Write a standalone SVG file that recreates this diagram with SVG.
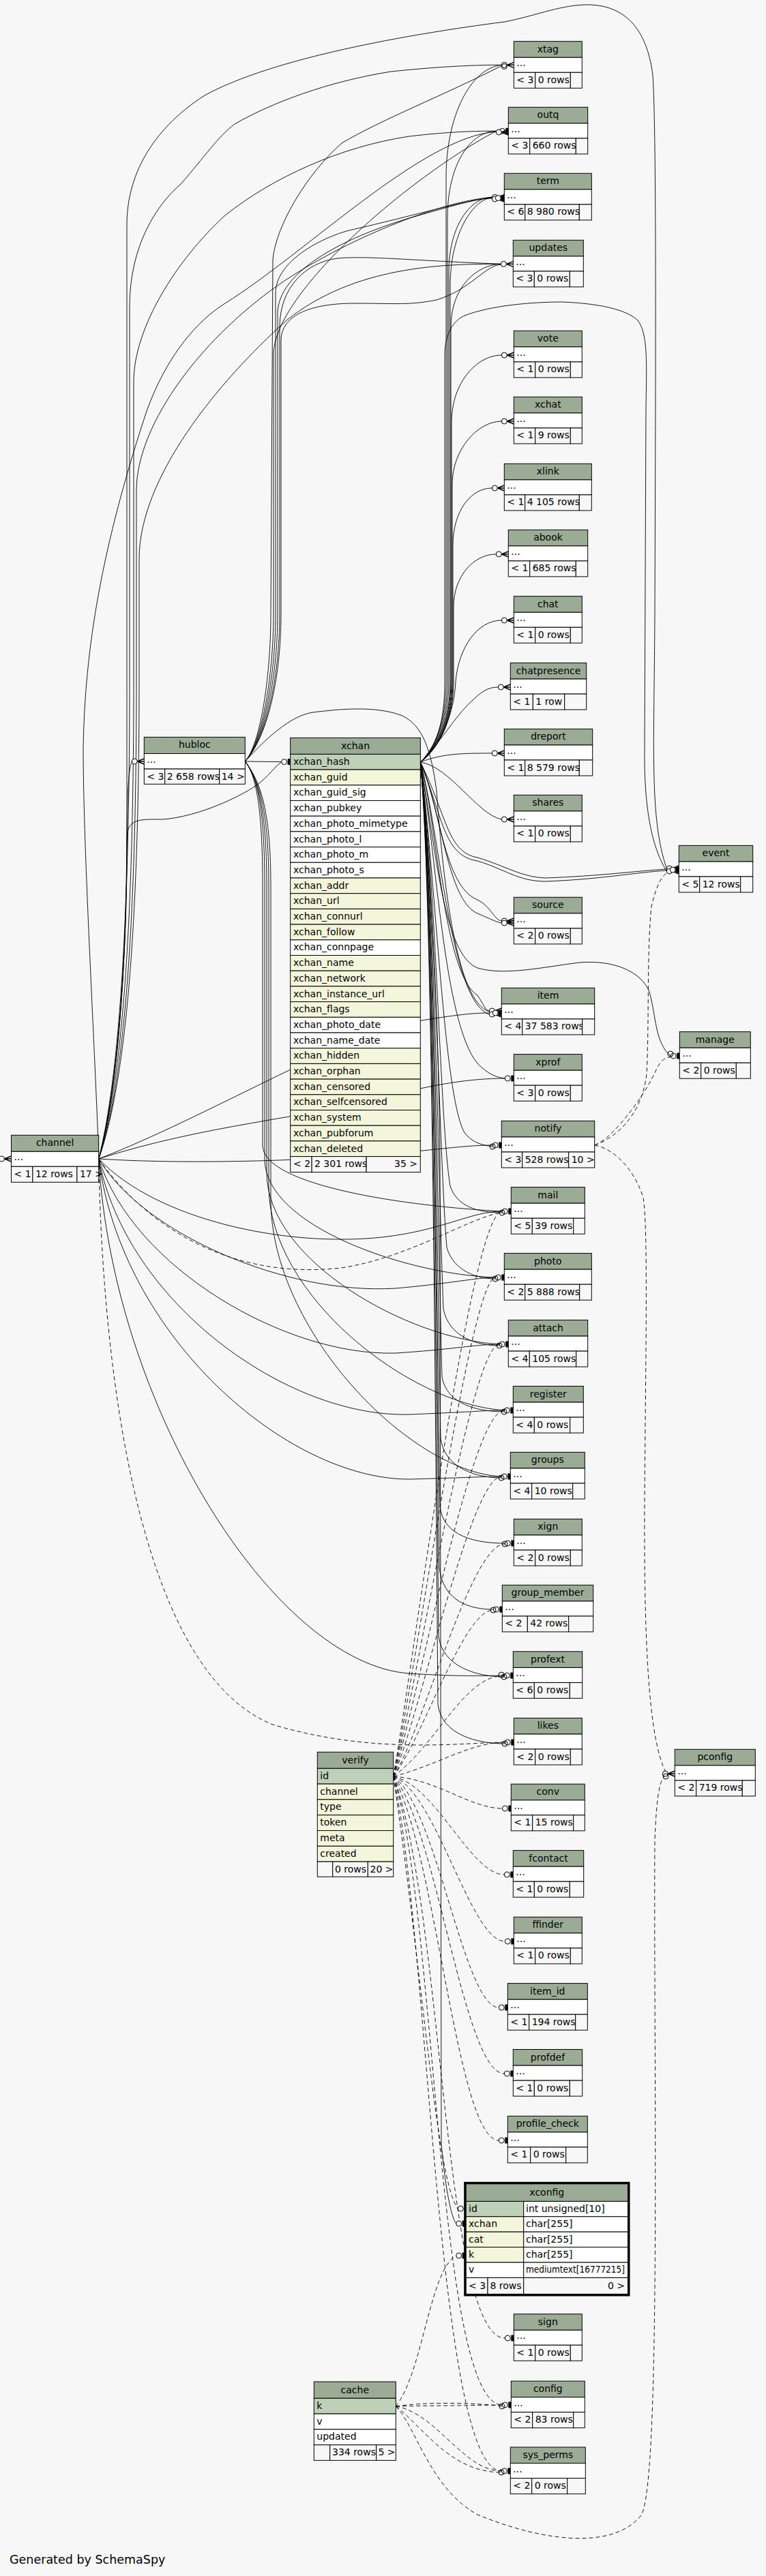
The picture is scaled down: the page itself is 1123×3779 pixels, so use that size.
<svg xmlns="http://www.w3.org/2000/svg" xmlns:xlink="http://www.w3.org/1999/xlink" width="1123" height="3779" viewBox="0 0 1123 3779">
<style>
text{font-family:"DejaVu Sans","Liberation Sans",sans-serif;font-size:14px;fill:#000}
.c{text-anchor:middle}
.r{text-anchor:end}
.h{fill:#9bab96;stroke:#000;stroke-width:1}
.w{fill:#fff;stroke:#000;stroke-width:1}
.pk{fill:#bed1b8;stroke:#000;stroke-width:1}
.ix{fill:#f4f6dc;stroke:#000;stroke-width:1}
.f{fill:#f7f7f7;stroke:#000;stroke-width:1}
.e{fill:none;stroke:#000;stroke-width:0.9}
.d{stroke-dasharray:6,4}
</style>
<defs>
<g id="cr"><circle cx="-14" cy="0" r="4" fill="#f7f7f7" stroke="#000"/><path d="M-10,0 L0,-4 M-10,0 L0,0 M-10,0 L0,4" fill="none" stroke="#000" stroke-width="1.4"/></g>
<g id="te"><circle cx="-9" cy="0" r="4" fill="#f7f7f7" stroke="#000"/><rect x="-4" y="-4.5" width="4" height="9" fill="#000"/></g>
<circle id="o" cx="0" cy="0" r="4" fill="none" stroke="#000"/>
</defs>
<rect x="0" y="0" width="1123" height="3779" fill="#f7f7f7"/>

<g id="connectors">
<path class="e" d="M144.7,1700 C168,1620 186,1450 186,1200 L186,330 C186,250 230,185 300,140 C400,85 600,50 740,32 C790,22 825,6 865,7 C915,9 948,40 957,110 C963,200 961,600 960,900 C959,1100 952,1200 977.3,1274"/>
<path class="e" d="M144.7,1700 C170,1600 190,1400 190,1000 L190,450 C190,360 230,300 265,270 C300,230 320,200 344,182 C400,150 480,120 573,105 C650,97 700,95.3 735.3,95.3"/>
<path class="e" d="M144.7,1700 C140,1550 122,1250 122,1100 C124,950 150,800 215,603 C245,520 290,470 330,445 C450,370 620,200 727.3,193.3"/>
<path class="e" d="M144.7,1700 C175,1600 196,1400 196,1000 L196,560 C196,480 260,380 330,316 C400,260 500,215 600,200 C660,193 700,192 727.3,192.3"/>
<path class="e" d="M144.7,1700 C178,1600 200,1400 200,1000 L200,720 C200,620 300,490 420,410 C520,345 650,295 721.3,289.3"/>
<path class="e" d="M144.7,1700 C180,1600 204,1400 204,1000 L204,820 C204,700 320,560 420,470 C520,390 650,387 734.3,387.3"/>
<path class="e" d="M144.7,1700 C172,1600 186,1400 186,1250 C186,1170 188,1130 193.3,1117"/>
<path class="e" d="M144.7,1700 C174,1600 186,1400 186,1230 C186,1200 205,1202 239,1202 C290,1198 350,1170 376,1152 C393,1140 403,1124 412.7,1118"/>
<path class="e" d="M144.7,1700 C300,1650 450,1640 560,1610 C640,1590 690,1582 740.3,1582"/>
<path class="e" d="M144.7,1700 C300,1710 500,1700 600,1690 C660,1684 690,1680 722.3,1680"/>
<path class="e" d="M144.7,1700 C230,1790 420,1830 560,1815 C650,1805 690,1777 736.3,1777"/>
<path class="e" d="M144.7,1700 C210,1810 420,1900 580,1890 C660,1883 700,1874 726.3,1874"/>
<path class="e" d="M144.7,1700 C195,1860 420,1990 580,1985 C660,1980 700,1972 732.3,1972"/>
<path class="e" d="M144.7,1700 C185,1910 420,2080 600,2075 C680,2072 710,2069 739.3,2069"/>
<path class="e" d="M144.7,1700 C178,1960 420,2170 600,2170 C680,2168 710,2166 735.3,2166"/>
<path class="e" d="M144.7,1700 C165,2060 400,2440 600,2455 C680,2460 710,2458 739.3,2458"/>
<path class="e" d="M144.7,1700 C300,1640 500,1520 600,1500 C660,1490 690,1486 717.3,1486"/>
<path class="e d" d="M144.7,1700 C200,1780 320,1880 500,1860 C600,1845 680,1790 736.3,1778"/>
<path class="e d" d="M144.7,1700 C150,2000 200,2450 400,2530 C550,2575 680,2556 740.3,2556"/>
<path class="e" d="M-20,1740 C-10,1725 -6,1705 -1.5,1700"/>
<path class="e" d="M359.3,1117 L412.7,1117.6"/>
<path class="e" d="M359.3,1117 C380,1095 397,1000 397,900 L400,380 C405,330 450,255 501,210 C560,175 650,140 735.3,96.5"/>
<path class="e" d="M359.3,1117 C382,1092 401,1000 401,900 L401,520 C401,430 600,260 727.3,192.3"/>
<path class="e" d="M359.3,1117 C384,1090 404,1000 404,900 L404,430 C404,380 480,345 516,337 C600,318 690,292 721.3,290"/>
<path class="e" d="M359.3,1117 C386,1088 407,1000 407,900 L407,460 C407,400 500,350 600,320 C670,300 700,291 721.3,291"/>
<path class="e" d="M359.3,1117 C388,1086 410,1000 410,900 L410,480 C410,420 450,385 494,379 C540,375 600,382 734.3,387.3"/>
<path class="e" d="M359.3,1117 C390,1084 412,1000 412,900 L412,500 C412,460 460,445 520,445 C580,445 600,448 640,440 C690,425 710,390 734.3,388"/>
<path class="e" d="M359.3,1117 C375,1100 420,1050 459,1045 C500,1040 551,1035 590,1050 C620,1065 632,1100 640,1160 C650,1300 670,1470 717.3,1484"/>
<path class="e" d="M359.3,1117 C378,1140 385,1200 385,1300 L385,1680 C385,1740 600,1770 736.3,1777"/>
<path class="e" d="M359.3,1117 C380,1142 388,1200 388,1300 L388,1700 C388,1800 600,1870 726.3,1874"/>
<path class="e" d="M359.3,1117 C381,1145 391,1200 391,1300 L391,1720 C391,1850 600,1965 732.3,1972"/>
<path class="e" d="M359.3,1117 C383,1148 394,1200 394,1300 L394,1740 C394,1900 600,2060 739.3,2069"/>
<path class="e" d="M359.3,1117 C385,1150 397,1200 397,1300 L397,1760 C397,1950 600,2160 735.3,2166"/>
<path class="e" d="M616.3,1118 C640,1095 652,1060 652,1000 L652,520 C652,490 665,470 681,463 C720,448 780,443 824,443 C880,445 920,455 935,470 C950,490 948,530 947,600 L945,1100 C944,1200 960,1250 977.3,1278"/>
<path class="e" d="M616.3,1118 C650,1200 650,1255 700,1263 C740,1275 760,1293 800,1293 C880,1290 930,1280 977.3,1277"/>
<path class="e" d="M616.3,1118 C655,1195 655,1250 700,1258 C740,1270 765,1287 800,1288 C880,1285 930,1278 977.3,1275"/>
<path class="e" d="M616.3,1118 C636,1100 654,1060 654,1000 L654,260 C654,170 690,100 735.3,95.3"/>
<path class="e" d="M616.3,1118 C636,1100 656,1060 656,1000 L656,320 C656,240 690,193 727.3,192.3"/>
<path class="e" d="M616.3,1118 C637,1100 658,1060 658,1000 L658,400 C658,330 690,290 721.3,289.3"/>
<path class="e" d="M616.3,1118 C638,1100 660,1060 660,1000 L660,420 C660,340 695,292 721.3,290"/>
<path class="e" d="M616.3,1118 C638,1100 661,1060 661,1000 L661,480 C661,420 700,388 734.3,387.3"/>
<path class="e" d="M616.3,1118 C640,1100 662,1060 662,1000 L662,620 C662,560 700,521 735.3,521"/>
<path class="e" d="M616.3,1118 C640,1100 663,1060 663,1000 L663,710 C663,660 700,618 735.3,618"/>
<path class="e" d="M616.3,1118 C640,1100 664,1060 664,1000 L664,800 C664,750 690,716 721.3,716"/>
<path class="e" d="M616.3,1118 C641,1100 665,1060 665,1000 L665,890 C665,845 695,813 727.3,813"/>
<path class="e" d="M616.3,1118 C642,1100 666,1050 668,1000 C672,950 700,910 735.3,910"/>
<path class="e" d="M616.3,1118 C645,1090 668,1050 690,1030 C705,1015 715,1008 730.3,1008"/>
<path class="e" d="M616.3,1118 C650,1105 680,1105 721.3,1105"/>
<path class="e" d="M616.3,1118 C660,1125 700,1195 735.3,1202"/>
<path class="e" d="M616.3,1118 C645,1180 650,1300 700,1320 C720,1330 725,1350 735.3,1351"/>
<path class="e" d="M616.3,1118 C648,1190 655,1320 700,1340 C715,1346 725,1352 735.3,1354"/>
<path class="e" d="M616.3,1118 C640,1200 650,1430 700,1460 C710,1475 712,1483 717.3,1483"/>
<path class="e" d="M616.3,1118 C645,1220 660,1470 717.3,1488"/>
<path class="e" d="M616.3,1118 C640,1250 650,1500 700,1560 C715,1575 725,1580 740.3,1582"/>
<path class="e" d="M616.3,1118 C640,1300 650,1600 680,1660 C690,1675 705,1680 722.3,1682"/>
<path class="e" d="M616.3,1118 C640,1250 650,1400 700,1420 C740,1432 800,1418 850,1412 C900,1408 940,1425 952,1455 C962,1490 960,1530 983.3,1549"/>
<path class="e" d="M616.3,1118 C640,1300 645,1650 660,1740 C670,1770 700,1779 736.3,1779"/>
<path class="e" d="M616.3,1118 C638,1300 644,1700 655,1830 C665,1865 700,1876 726.3,1876"/>
<path class="e" d="M616.3,1118 C637,1300 643,1750 650,1920 C658,1962 700,1974 732.3,1974"/>
<path class="e" d="M616.3,1118 C636,1300 642,1800 648,2020 C655,2060 700,2071 739.3,2071"/>
<path class="e" d="M616.3,1118 C636,1300 641,1850 646,2110 C652,2155 700,2168 735.3,2168"/>
<path class="e" d="M616.3,1118 C635,1300 640,1900 645,2210 C650,2255 700,2264 740.3,2264"/>
<path class="e" d="M616.3,1118 C635,1300 640,1950 644,2300 C650,2350 690,2361 723.3,2361"/>
<path class="e" d="M616.3,1118 C634,1300 639,2000 643,2400 C648,2445 700,2460 739.3,2460"/>
<path class="e" d="M616.3,1118 C634,1300 638,2050 642,2500 C647,2545 700,2558 740.3,2558"/>
<path class="e" d="M616.3,1118 C633,1300 643,1500 645,1700 L647,3146 C652,3200 660,3250 668.7,3262"/>
<path class="e d" d="M576.7,2606 C640,2610 690,2653 736.3,2653"/>
<path class="e d" d="M576.7,2606 C640,2620 690,2750 739.3,2750"/>
<path class="e d" d="M576.7,2606 C640,2630 690,2848 740.3,2848"/>
<path class="e d" d="M576.7,2606 C640,2650 680,2945 731.3,2945"/>
<path class="e d" d="M576.7,2606 C640,2680 680,3042 739.3,3042"/>
<path class="e d" d="M576.7,2606 C640,2720 670,3140 731.3,3140"/>
<path class="e d" d="M576.7,2606 C650,2800 650,3430 740.3,3430"/>
<path class="e d" d="M576.7,2606 C640,2800 640,3528 736.3,3528"/>
<path class="e d" d="M576.7,2606 C630,2850 640,3625 735.3,3625"/>
<path class="e d" d="M576.7,2606 C640,2590 690,2556 740.3,2556"/>
<path class="e d" d="M576.7,2606 C640,2560 680,2458 739.3,2458"/>
<path class="e d" d="M576.7,2606 C620,2550 680,2361 723.3,2362"/>
<path class="e d" d="M576.7,2606 C620,2540 690,2264 740.3,2265"/>
<path class="e d" d="M576.7,2606 C615,2520 690,2166 735.3,2166"/>
<path class="e d" d="M576.7,2606 C612,2500 690,2069 739.3,2069"/>
<path class="e d" d="M576.7,2606 C610,2480 690,1972 732.3,1972"/>
<path class="e d" d="M576.7,2606 C608,2460 690,1874 726.3,1874"/>
<path class="e d" d="M576.7,2606 C606,2440 690,1777 736.3,1777"/>
<path class="e d" d="M576.7,2606 C620,2900 640,3200 671.3,3240"/>
<path class="e d" d="M580.3,3530 L736.3,3528"/>
<path class="e d" d="M580.3,3530 C620,3524 690,3524 736.3,3530"/>
<path class="e d" d="M580.3,3530 C640,3540 680,3625 735.3,3625"/>
<path class="e d" d="M580.3,3530 C620,3560 660,3627 735.3,3627"/>
<path class="e d" d="M580.3,3530 C620,3480 630,3330 668.7,3309"/>
<path class="e d" d="M580.3,3530 C610,3560 630,3650 700,3689 C800,3730 900,3740 940,3690 C970,3640 958,3000 960,2700 C962,2650 965,2610 976.3,2604"/>
<path class="e d" d="M871.7,1680 C900,1670 940,1640 948,1576 C952,1500 948,1400 955,1330 C962,1300 970,1285 977.3,1281"/>
<path class="e d" d="M871.7,1680 C900,1670 950,1600 963,1567 C970,1555 975,1551 983.3,1551"/>
<path class="e d" d="M871.7,1680 C900,1685 930,1715 943,1757 C950,1800 947,1966 945,2200 C944,2400 950,2550 976.3,2600"/>
<use href="#cr" x="753.3" y="95.3"/><use href="#o" x="739.3" y="97.5"/>
<use href="#te" x="745.3" y="192.3"/><use href="#cr" x="745.3" y="194"/>
<use href="#cr" x="739.3" y="289.3"/><use href="#cr" x="739.3" y="292"/><use href="#te" x="739.3" y="290.5"/>
<use href="#cr" x="752.3" y="387.3"/>
<use href="#cr" x="753.3" y="521"/>
<use href="#cr" x="753.3" y="618"/>
<use href="#cr" x="739.3" y="716"/>
<use href="#cr" x="745.3" y="813"/>
<use href="#cr" x="753.3" y="910"/>
<use href="#cr" x="748.3" y="1008"/>
<use href="#cr" x="739.3" y="1105"/>
<use href="#cr" x="753.3" y="1202"/>
<use href="#cr" x="995.3" y="1274"/><use href="#cr" x="995.3" y="1278"/><use href="#te" x="995.3" y="1276"/>
<use href="#cr" x="753.3" y="1351"/><use href="#cr" x="753.3" y="1354"/>
<use href="#cr" x="735.3" y="1483"/><use href="#cr" x="735.3" y="1488"/><use href="#te" x="735.3" y="1486"/>
<use href="#te" x="996.3" y="1549"/><use href="#o" x="983" y="1546"/>
<use href="#te" x="753.3" y="1582"/>
<use href="#te" x="735.3" y="1680"/><use href="#o" x="722" y="1682"/>
<use href="#te" x="749.3" y="1777"/><use href="#o" x="736" y="1779"/>
<use href="#te" x="739.3" y="1874"/><use href="#o" x="726" y="1876"/>
<use href="#te" x="745.3" y="1972"/><use href="#o" x="732" y="1974"/>
<use href="#te" x="752.3" y="2069"/><use href="#o" x="739" y="2071"/>
<use href="#te" x="748.3" y="2166"/><use href="#o" x="735" y="2168"/>
<use href="#te" x="753.3" y="2264"/><use href="#o" x="740" y="2265"/>
<use href="#te" x="736.3" y="2361"/><use href="#o" x="723" y="2362"/>
<use href="#te" x="752.3" y="2458"/><use href="#o" x="739" y="2460"/><use href="#o" x="735" y="2457"/>
<use href="#te" x="753.3" y="2556"/><use href="#o" x="740" y="2558"/>
<use href="#te" x="749.3" y="2653"/>
<use href="#te" x="752.3" y="2750"/>
<use href="#te" x="753.3" y="2848"/>
<use href="#te" x="744.3" y="2945"/>
<use href="#te" x="752.3" y="3042"/>
<use href="#te" x="744.3" y="3140"/>
<use href="#te" x="753.3" y="3430"/>
<use href="#te" x="749.3" y="3528"/><use href="#o" x="736" y="3530"/>
<use href="#te" x="748.3" y="3625"/><use href="#o" x="735" y="3627"/>
<use href="#cr" x="989.3" y="2602"/><use href="#o" x="976" y="2606"/>
<use href="#cr" x="211.3" y="1117"/>
<use href="#cr" x="16.5" y="1700"/>
<use href="#te" x="425.7" y="1117.6"/>
<use href="#o" x="675.3" y="3240"/>
<use href="#te" x="681.7" y="3262"/>
<use href="#te" x="681.7" y="3309"/>
</g>

<g id="xtag"><rect class="h" x="753.3" y="60.7" width="100" height="23.6"/><text class="c" x="803.3" y="76.7">xtag</text><rect class="w" x="753.3" y="84.3" width="100" height="22"/><text x="757.3" y="97.3">...</text><rect class="f" x="753.3" y="106.3" width="31.4" height="23"/><text x="757.3" y="121.8">&lt; 3</text><rect class="f" x="784.7" y="106.3" width="51.6" height="23"/><text x="788.7" y="121.8">0 rows</text><rect class="f" x="836.3" y="106.3" width="17" height="23"/></g>
<g id="outq"><rect class="h" x="745.3" y="157.3" width="116.4" height="23.6"/><text class="c" x="803.5" y="173.3">outq</text><rect class="w" x="745.3" y="180.9" width="116.4" height="22"/><text x="749.3" y="193.9">...</text><rect class="f" x="745.3" y="202.9" width="31.4" height="23"/><text x="749.3" y="218.4">&lt; 3</text><rect class="f" x="776.7" y="202.9" width="67.6" height="23"/><text x="780.7" y="218.4">660 rows</text><rect class="f" x="844.3" y="202.9" width="17.4" height="23"/></g>
<g id="term"><rect class="h" x="739.3" y="254.3" width="128" height="23.6"/><text class="c" x="803.3" y="270.3">term</text><rect class="w" x="739.3" y="277.9" width="128" height="22"/><text x="743.3" y="290.9">...</text><rect class="f" x="739.3" y="299.9" width="30.4" height="23"/><text x="743.3" y="315.4">&lt; 6</text><rect class="f" x="769.7" y="299.9" width="79.6" height="23"/><text x="772.7" y="315.4">8 980 rows</text><rect class="f" x="849.3" y="299.9" width="18" height="23"/></g>
<g id="updates"><rect class="h" x="752.3" y="352.3" width="103" height="23.6"/><text class="c" x="803.8" y="368.3">updates</text><rect class="w" x="752.3" y="375.9" width="103" height="22"/><text x="756.3" y="388.9">...</text><rect class="f" x="752.3" y="397.9" width="31" height="23"/><text x="756.3" y="413.4">&lt; 3</text><rect class="f" x="783.3" y="397.9" width="52" height="23"/><text x="787.3" y="413.4">0 rows</text><rect class="f" x="835.3" y="397.9" width="20" height="23"/></g>
<g id="vote"><rect class="h" x="753.3" y="485.3" width="100" height="23.6"/><text class="c" x="803.3" y="501.3">vote</text><rect class="w" x="753.3" y="508.9" width="100" height="22"/><text x="757.3" y="521.9">...</text><rect class="f" x="753.3" y="530.9" width="31.4" height="23"/><text x="757.3" y="546.4">&lt; 1</text><rect class="f" x="784.7" y="530.9" width="51.6" height="23"/><text x="788.7" y="546.4">0 rows</text><rect class="f" x="836.3" y="530.9" width="17" height="23"/></g>
<g id="xchat"><rect class="h" x="753.3" y="582.3" width="100" height="23.6"/><text class="c" x="803.3" y="598.3">xchat</text><rect class="w" x="753.3" y="605.9" width="100" height="22"/><text x="757.3" y="618.9">...</text><rect class="f" x="753.3" y="627.9" width="31.4" height="23"/><text x="757.3" y="643.4">&lt; 1</text><rect class="f" x="784.7" y="627.9" width="51.6" height="23"/><text x="788.7" y="643.4">9 rows</text><rect class="f" x="836.3" y="627.9" width="17" height="23"/></g>
<g id="xlink"><rect class="h" x="739.3" y="680.3" width="128" height="23.6"/><text class="c" x="803.3" y="696.3">xlink</text><rect class="w" x="739.3" y="703.9" width="128" height="22"/><text x="743.3" y="716.9">...</text><rect class="f" x="739.3" y="725.9" width="30.4" height="23"/><text x="743.3" y="741.4">&lt; 1</text><rect class="f" x="769.7" y="725.9" width="79.6" height="23"/><text x="772.7" y="741.4">4 105 rows</text><rect class="f" x="849.3" y="725.9" width="18" height="23"/></g>
<g id="abook"><rect class="h" x="745.3" y="777.3" width="116.4" height="23.6"/><text class="c" x="803.5" y="793.3">abook</text><rect class="w" x="745.3" y="800.9" width="116.4" height="22"/><text x="749.3" y="813.9">...</text><rect class="f" x="745.3" y="822.9" width="31.4" height="23"/><text x="749.3" y="838.4">&lt; 1</text><rect class="f" x="776.7" y="822.9" width="67.6" height="23"/><text x="780.7" y="838.4">685 rows</text><rect class="f" x="844.3" y="822.9" width="17.4" height="23"/></g>
<g id="chat"><rect class="h" x="753.3" y="874.7" width="100" height="23.6"/><text class="c" x="803.3" y="890.7">chat</text><rect class="w" x="753.3" y="898.3" width="100" height="22"/><text x="757.3" y="911.3">...</text><rect class="f" x="753.3" y="920.3" width="31.4" height="23"/><text x="757.3" y="935.8">&lt; 1</text><rect class="f" x="784.7" y="920.3" width="51.6" height="23"/><text x="788.7" y="935.8">0 rows</text><rect class="f" x="836.3" y="920.3" width="17" height="23"/></g>
<g id="chatpresence"><rect class="h" x="748.3" y="972.5" width="111.4" height="23.6"/><text class="c" x="804" y="988.5">chatpresence</text><rect class="w" x="748.3" y="996.1" width="111.4" height="22"/><text x="752.3" y="1009.1">...</text><rect class="f" x="748.3" y="1018.1" width="33" height="23"/><text x="752.3" y="1033.6">&lt; 1</text><rect class="f" x="781.3" y="1018.1" width="46.4" height="23"/><text x="785.3" y="1033.6">1 row</text><rect class="f" x="827.7" y="1018.1" width="32" height="23"/></g>
<g id="dreport"><rect class="h" x="739.3" y="1069.4" width="129.4" height="23.6"/><text class="c" x="804" y="1085.4">dreport</text><rect class="w" x="739.3" y="1093" width="129.4" height="22"/><text x="743.3" y="1106">...</text><rect class="f" x="739.3" y="1115" width="30.4" height="23"/><text x="743.3" y="1130.5">&lt; 1</text><rect class="f" x="769.7" y="1115" width="79.6" height="23"/><text x="772.7" y="1130.5">8 579 rows</text><rect class="f" x="849.3" y="1115" width="19.4" height="23"/></g>
<g id="shares"><rect class="h" x="753.3" y="1166.3" width="100" height="23.6"/><text class="c" x="803.3" y="1182.3">shares</text><rect class="w" x="753.3" y="1189.9" width="100" height="22"/><text x="757.3" y="1202.9">...</text><rect class="f" x="753.3" y="1211.9" width="31.4" height="23"/><text x="757.3" y="1227.4">&lt; 1</text><rect class="f" x="784.7" y="1211.9" width="51.6" height="23"/><text x="788.7" y="1227.4">0 rows</text><rect class="f" x="836.3" y="1211.9" width="17" height="23"/></g>
<g id="event"><rect class="h" x="995.3" y="1240.4" width="108.4" height="23.6"/><text class="c" x="1049.5" y="1256.4">event</text><rect class="w" x="995.3" y="1264" width="108.4" height="22"/><text x="999.3" y="1277">...</text><rect class="f" x="995.3" y="1286" width="30.4" height="23"/><text x="999.3" y="1301.5">&lt; 5</text><rect class="f" x="1025.7" y="1286" width="60" height="23"/><text x="1029.7" y="1301.5">12 rows</text><rect class="f" x="1085.7" y="1286" width="18" height="23"/></g>
<g id="source"><rect class="h" x="753.3" y="1316.3" width="100" height="23.6"/><text class="c" x="803.3" y="1332.3">source</text><rect class="w" x="753.3" y="1339.9" width="100" height="22"/><text x="757.3" y="1352.9">...</text><rect class="f" x="753.3" y="1361.9" width="31.4" height="23"/><text x="757.3" y="1377.4">&lt; 2</text><rect class="f" x="784.7" y="1361.9" width="51.6" height="23"/><text x="788.7" y="1377.4">0 rows</text><rect class="f" x="836.3" y="1361.9" width="17" height="23"/></g>
<g id="item"><rect class="h" x="735.3" y="1449.3" width="136.4" height="23.6"/><text class="c" x="803.5" y="1465.3">item</text><rect class="w" x="735.3" y="1472.9" width="136.4" height="22"/><text x="739.3" y="1485.9">...</text><rect class="f" x="735.3" y="1494.9" width="30.4" height="23"/><text x="739.3" y="1510.4">&lt; 4</text><rect class="f" x="765.7" y="1494.9" width="88" height="23"/><text x="769.7" y="1510.4">37 583 rows</text><rect class="f" x="853.7" y="1494.9" width="18" height="23"/></g>
<g id="manage"><rect class="h" x="996.3" y="1513.6" width="104" height="23.6"/><text class="c" x="1048.3" y="1529.6">manage</text><rect class="w" x="996.3" y="1537.2" width="104" height="22"/><text x="1000.3" y="1550.2">...</text><rect class="f" x="996.3" y="1559.2" width="31.4" height="23"/><text x="1000.3" y="1574.7">&lt; 2</text><rect class="f" x="1027.7" y="1559.2" width="51.6" height="23"/><text x="1031.7" y="1574.7">0 rows</text><rect class="f" x="1079.3" y="1559.2" width="21" height="23"/></g>
<g id="xprof"><rect class="h" x="753.3" y="1546.6" width="100" height="23.6"/><text class="c" x="803.3" y="1562.6">xprof</text><rect class="w" x="753.3" y="1570.2" width="100" height="22"/><text x="757.3" y="1583.2">...</text><rect class="f" x="753.3" y="1592.2" width="31.4" height="23"/><text x="757.3" y="1607.7">&lt; 3</text><rect class="f" x="784.7" y="1592.2" width="51.6" height="23"/><text x="788.7" y="1607.7">0 rows</text><rect class="f" x="836.3" y="1592.2" width="17" height="23"/></g>
<g id="notify"><rect class="h" x="735.3" y="1644.4" width="136.4" height="23.6"/><text class="c" x="803.5" y="1660.4">notify</text><rect class="w" x="735.3" y="1668" width="136.4" height="22"/><text x="739.3" y="1681">...</text><rect class="f" x="735.3" y="1690" width="30.4" height="23"/><text x="739.3" y="1705.5">&lt; 3</text><rect class="f" x="765.7" y="1690" width="68" height="23"/><text x="769.7" y="1705.5">528 rows</text><rect class="f" x="833.7" y="1690" width="38" height="23"/><text x="837.7" y="1705.5">10 &gt;</text></g>
<g id="mail"><rect class="h" x="749.3" y="1741.6" width="108" height="23.6"/><text class="c" x="803.3" y="1757.6">mail</text><rect class="w" x="749.3" y="1765.2" width="108" height="22"/><text x="753.3" y="1778.2">...</text><rect class="f" x="749.3" y="1787.2" width="31" height="23"/><text x="753.3" y="1802.7">&lt; 5</text><rect class="f" x="780.3" y="1787.2" width="60.4" height="23"/><text x="784.3" y="1802.7">39 rows</text><rect class="f" x="840.7" y="1787.2" width="16.6" height="23"/></g>
<g id="photo"><rect class="h" x="739.3" y="1838.6" width="128" height="23.6"/><text class="c" x="803.3" y="1854.6">photo</text><rect class="w" x="739.3" y="1862.2" width="128" height="22"/><text x="743.3" y="1875.2">...</text><rect class="f" x="739.3" y="1884.2" width="30.4" height="23"/><text x="743.3" y="1899.7">&lt; 2</text><rect class="f" x="769.7" y="1884.2" width="80" height="23"/><text x="772.7" y="1899.7">5 888 rows</text><rect class="f" x="849.7" y="1884.2" width="17.6" height="23"/></g>
<g id="attach"><rect class="h" x="745.3" y="1936.5" width="116.4" height="23.6"/><text class="c" x="803.5" y="1952.5">attach</text><rect class="w" x="745.3" y="1960.1" width="116.4" height="22"/><text x="749.3" y="1973.1">...</text><rect class="f" x="745.3" y="1982.1" width="31" height="23"/><text x="749.3" y="1997.6">&lt; 4</text><rect class="f" x="776.3" y="1982.1" width="68.4" height="23"/><text x="780.3" y="1997.6">105 rows</text><rect class="f" x="844.7" y="1982.1" width="17" height="23"/></g>
<g id="register"><rect class="h" x="752.3" y="2033.5" width="103" height="23.6"/><text class="c" x="803.8" y="2049.5">register</text><rect class="w" x="752.3" y="2057.1" width="103" height="22"/><text x="756.3" y="2070.1">...</text><rect class="f" x="752.3" y="2079.1" width="31" height="23"/><text x="756.3" y="2094.6">&lt; 4</text><rect class="f" x="783.3" y="2079.1" width="52.4" height="23"/><text x="787.3" y="2094.6">0 rows</text><rect class="f" x="835.7" y="2079.1" width="19.6" height="23"/></g>
<g id="groups"><rect class="h" x="748.3" y="2130.4" width="109" height="23.6"/><text class="c" x="802.8" y="2146.4">groups</text><rect class="w" x="748.3" y="2154" width="109" height="22"/><text x="752.3" y="2167">...</text><rect class="f" x="748.3" y="2176" width="31.4" height="23"/><text x="752.3" y="2191.5">&lt; 4</text><rect class="f" x="779.7" y="2176" width="60" height="23"/><text x="783.7" y="2191.5">10 rows</text><rect class="f" x="839.7" y="2176" width="17.6" height="23"/></g>
<g id="xign"><rect class="h" x="753.3" y="2228.4" width="100" height="23.6"/><text class="c" x="803.3" y="2244.4">xign</text><rect class="w" x="753.3" y="2252" width="100" height="22"/><text x="757.3" y="2265">...</text><rect class="f" x="753.3" y="2274" width="31.4" height="23"/><text x="757.3" y="2289.5">&lt; 2</text><rect class="f" x="784.7" y="2274" width="51.6" height="23"/><text x="788.7" y="2289.5">0 rows</text><rect class="f" x="836.3" y="2274" width="17" height="23"/></g>
<g id="group_member"><rect class="h" x="736.3" y="2325.3" width="133.4" height="23.6"/><text class="c" x="803" y="2341.3">group_member</text><rect class="w" x="736.3" y="2348.9" width="133.4" height="22"/><text x="740.3" y="2361.9">...</text><rect class="f" x="736.3" y="2370.9" width="37" height="23"/><text x="740.3" y="2386.4">&lt; 2</text><rect class="f" x="773.3" y="2370.9" width="60.4" height="23"/><text x="777.3" y="2386.4">42 rows</text><rect class="f" x="833.7" y="2370.9" width="36" height="23"/></g>
<g id="profext"><rect class="h" x="752.3" y="2422.8" width="101.4" height="23.6"/><text class="c" x="803" y="2438.8">profext</text><rect class="w" x="752.3" y="2446.4" width="101.4" height="22"/><text x="756.3" y="2459.4">...</text><rect class="f" x="752.3" y="2468.4" width="31" height="23"/><text x="756.3" y="2483.9">&lt; 6</text><rect class="f" x="783.3" y="2468.4" width="52" height="23"/><text x="787.3" y="2483.9">0 rows</text><rect class="f" x="835.3" y="2468.4" width="18.4" height="23"/></g>
<g id="likes"><rect class="h" x="753.3" y="2520.4" width="100" height="23.6"/><text class="c" x="803.3" y="2536.4">likes</text><rect class="w" x="753.3" y="2544" width="100" height="22"/><text x="757.3" y="2557">...</text><rect class="f" x="753.3" y="2566" width="31.4" height="23"/><text x="757.3" y="2581.5">&lt; 2</text><rect class="f" x="784.7" y="2566" width="51.6" height="23"/><text x="788.7" y="2581.5">0 rows</text><rect class="f" x="836.3" y="2566" width="17" height="23"/></g>
<g id="conv"><rect class="h" x="749.3" y="2617.2" width="108" height="23.6"/><text class="c" x="803.3" y="2633.2">conv</text><rect class="w" x="749.3" y="2640.8" width="108" height="22"/><text x="753.3" y="2653.8">...</text><rect class="f" x="749.3" y="2662.8" width="31.4" height="23"/><text x="753.3" y="2678.3">&lt; 1</text><rect class="f" x="780.7" y="2662.8" width="60" height="23"/><text x="784.7" y="2678.3">15 rows</text><rect class="f" x="840.7" y="2662.8" width="16.6" height="23"/></g>
<g id="fcontact"><rect class="h" x="752.3" y="2714.6" width="103.4" height="23.6"/><text class="c" x="804" y="2730.6">fcontact</text><rect class="w" x="752.3" y="2738.2" width="103.4" height="22"/><text x="756.3" y="2751.2">...</text><rect class="f" x="752.3" y="2760.2" width="31" height="23"/><text x="756.3" y="2775.7">&lt; 1</text><rect class="f" x="783.3" y="2760.2" width="52" height="23"/><text x="787.3" y="2775.7">0 rows</text><rect class="f" x="835.3" y="2760.2" width="20.4" height="23"/></g>
<g id="ffinder"><rect class="h" x="753.3" y="2812.3" width="100" height="23.6"/><text class="c" x="803.3" y="2828.3">ffinder</text><rect class="w" x="753.3" y="2835.9" width="100" height="22"/><text x="757.3" y="2848.9">...</text><rect class="f" x="753.3" y="2857.9" width="31.4" height="23"/><text x="757.3" y="2873.4">&lt; 1</text><rect class="f" x="784.7" y="2857.9" width="51.6" height="23"/><text x="788.7" y="2873.4">0 rows</text><rect class="f" x="836.3" y="2857.9" width="17" height="23"/></g>
<g id="item_id"><rect class="h" x="744.3" y="2909.6" width="117" height="23.6"/><text class="c" x="802.8" y="2925.6">item_id</text><rect class="w" x="744.3" y="2933.2" width="117" height="22"/><text x="748.3" y="2946.2">...</text><rect class="f" x="744.3" y="2955.2" width="31.4" height="23"/><text x="748.3" y="2970.7">&lt; 1</text><rect class="f" x="775.7" y="2955.2" width="68" height="23"/><text x="779.7" y="2970.7">194 rows</text><rect class="f" x="843.7" y="2955.2" width="17.6" height="23"/></g>
<g id="profdef"><rect class="h" x="752.3" y="3006.5" width="101.4" height="23.6"/><text class="c" x="803" y="3022.5">profdef</text><rect class="w" x="752.3" y="3030.1" width="101.4" height="22"/><text x="756.3" y="3043.1">...</text><rect class="f" x="752.3" y="3052.1" width="31" height="23"/><text x="756.3" y="3067.6">&lt; 1</text><rect class="f" x="783.3" y="3052.1" width="52" height="23"/><text x="787.3" y="3067.6">0 rows</text><rect class="f" x="835.3" y="3052.1" width="18.4" height="23"/></g>
<g id="profile_check"><rect class="h" x="744.3" y="3104.3" width="117" height="23.6"/><text class="c" x="802.8" y="3120.3">profile_check</text><rect class="w" x="744.3" y="3127.9" width="117" height="22"/><text x="748.3" y="3140.9">...</text><rect class="f" x="744.3" y="3149.9" width="33.4" height="23"/><text x="748.3" y="3165.4">&lt; 1</text><rect class="f" x="777.7" y="3149.9" width="52" height="23"/><text x="781.7" y="3165.4">0 rows</text><rect class="f" x="829.7" y="3149.9" width="31.6" height="23"/></g>
<g id="sign"><rect class="h" x="753.3" y="3394.7" width="100" height="23.6"/><text class="c" x="803.3" y="3410.7">sign</text><rect class="w" x="753.3" y="3418.3" width="100" height="22"/><text x="757.3" y="3431.3">...</text><rect class="f" x="753.3" y="3440.3" width="31.4" height="23"/><text x="757.3" y="3455.8">&lt; 1</text><rect class="f" x="784.7" y="3440.3" width="51.6" height="23"/><text x="788.7" y="3455.8">0 rows</text><rect class="f" x="836.3" y="3440.3" width="17" height="23"/></g>
<g id="config"><rect class="h" x="749.3" y="3493.1" width="108" height="23.6"/><text class="c" x="803.3" y="3509.1">config</text><rect class="w" x="749.3" y="3516.7" width="108" height="22"/><text x="753.3" y="3529.7">...</text><rect class="f" x="749.3" y="3538.7" width="31.4" height="23"/><text x="753.3" y="3554.2">&lt; 2</text><rect class="f" x="780.7" y="3538.7" width="60" height="23"/><text x="784.7" y="3554.2">83 rows</text><rect class="f" x="840.7" y="3538.7" width="16.6" height="23"/></g>
<g id="sys_perms"><rect class="h" x="748.3" y="3590" width="110" height="23.6"/><text class="c" x="803.3" y="3606">sys_perms</text><rect class="w" x="748.3" y="3613.6" width="110" height="22"/><text x="752.3" y="3626.6">...</text><rect class="f" x="748.3" y="3635.6" width="31.4" height="23"/><text x="752.3" y="3651.1">&lt; 2</text><rect class="f" x="779.7" y="3635.6" width="52" height="23"/><text x="783.7" y="3651.1">0 rows</text><rect class="f" x="831.7" y="3635.6" width="26.6" height="23"/></g>
<g id="pconfig"><rect class="h" x="989.3" y="2566.3" width="118" height="23.6"/><text class="c" x="1048.3" y="2582.3">pconfig</text><rect class="w" x="989.3" y="2589.9" width="118" height="22"/><text x="993.3" y="2602.9">...</text><rect class="f" x="989.3" y="2611.9" width="31.4" height="23"/><text x="993.3" y="2627.4">&lt; 2</text><rect class="f" x="1020.7" y="2611.9" width="67.6" height="23"/><text x="1024.7" y="2627.4">719 rows</text><rect class="f" x="1088.3" y="2611.9" width="19" height="23"/></g>

<g id="hubloc"><rect class="h" x="211.3" y="1081.4" width="148" height="24.1"/><text class="c" x="285.3" y="1097.4">hubloc</text><rect class="w" x="211.3" y="1105.5" width="148" height="22.6"/><text x="215.3" y="1118.5">...</text><rect class="f" x="211.3" y="1128.1" width="30.4" height="22.2"/><text x="215.3" y="1143.6">&lt; 3</text><rect class="f" x="241.7" y="1128.1" width="80" height="22.2"/><text x="244.7" y="1143.6">2 658 rows</text><rect class="f" x="321.7" y="1128.1" width="37.6" height="22.2"/><text x="324.7" y="1143.6">14 &gt;</text></g>

<g id="channel"><rect class="h" x="16.5" y="1665.3" width="128.2" height="24"/><text class="c" x="80.6" y="1681.3">channel</text><rect class="w" x="16.5" y="1689.3" width="128.2" height="22"/><text x="20.5" y="1702.3">...</text><rect class="f" x="16.5" y="1711.3" width="31.4" height="23"/><text x="20.5" y="1726.8">&lt; 1</text><rect class="f" x="47.9" y="1711.3" width="65" height="23"/><text x="51.9" y="1726.8">12 rows</text><rect class="f" x="112.9" y="1711.3" width="31.8" height="23"/><text x="116.9" y="1726.8">17 &gt;</text></g>

<g id="xchan">
<rect class="h" x="425.7" y="1082.4" width="190.6" height="24"/><text class="c" x="521" y="1099">xchan</text>
<rect class="pk" x="425.7" y="1106.4" width="190.6" height="22.7"/><text x="430" y="1122">xchan_hash</text>
<rect class="ix" x="425.7" y="1129.1" width="190.6" height="22.7"/><text x="430" y="1144.7">xchan_guid</text>
<rect class="w" x="425.7" y="1151.8" width="190.6" height="22.7"/><text x="430" y="1167.4">xchan_guid_sig</text>
<rect class="w" x="425.7" y="1174.5" width="190.6" height="22.7"/><text x="430" y="1190.1">xchan_pubkey</text>
<rect class="w" x="425.7" y="1197.2" width="190.6" height="22.7"/><text x="430" y="1212.8">xchan_photo_mimetype</text>
<rect class="w" x="425.7" y="1219.9" width="190.6" height="22.7"/><text x="430" y="1235.5">xchan_photo_l</text>
<rect class="w" x="425.7" y="1242.6" width="190.6" height="22.7"/><text x="430" y="1258.2">xchan_photo_m</text>
<rect class="w" x="425.7" y="1265.3" width="190.6" height="22.7"/><text x="430" y="1280.9">xchan_photo_s</text>
<rect class="ix" x="425.7" y="1288" width="190.6" height="22.7"/><text x="430" y="1303.6">xchan_addr</text>
<rect class="ix" x="425.7" y="1310.7" width="190.6" height="22.7"/><text x="430" y="1326.3">xchan_url</text>
<rect class="ix" x="425.7" y="1333.4" width="190.6" height="22.7"/><text x="430" y="1349">xchan_connurl</text>
<rect class="ix" x="425.7" y="1356.1" width="190.6" height="22.7"/><text x="430" y="1371.7">xchan_follow</text>
<rect class="w" x="425.7" y="1378.8" width="190.6" height="22.7"/><text x="430" y="1394.4">xchan_connpage</text>
<rect class="ix" x="425.7" y="1401.5" width="190.6" height="22.7"/><text x="430" y="1417.1">xchan_name</text>
<rect class="ix" x="425.7" y="1424.2" width="190.6" height="22.7"/><text x="430" y="1439.8">xchan_network</text>
<rect class="ix" x="425.7" y="1446.9" width="190.6" height="22.7"/><text x="430" y="1462.5">xchan_instance_url</text>
<rect class="ix" x="425.7" y="1469.6" width="190.6" height="22.7"/><text x="430" y="1485.2">xchan_flags</text>
<rect class="w" x="425.7" y="1492.3" width="190.6" height="22.7"/><text x="430" y="1507.9">xchan_photo_date</text>
<rect class="w" x="425.7" y="1515" width="190.6" height="22.7"/><text x="430" y="1530.6">xchan_name_date</text>
<rect class="ix" x="425.7" y="1537.7" width="190.6" height="22.7"/><text x="430" y="1553.3">xchan_hidden</text>
<rect class="ix" x="425.7" y="1560.4" width="190.6" height="22.7"/><text x="430" y="1576">xchan_orphan</text>
<rect class="ix" x="425.7" y="1583.1" width="190.6" height="22.7"/><text x="430" y="1598.7">xchan_censored</text>
<rect class="ix" x="425.7" y="1605.8" width="190.6" height="22.7"/><text x="430" y="1621.4">xchan_selfcensored</text>
<rect class="ix" x="425.7" y="1628.5" width="190.6" height="22.7"/><text x="430" y="1644.1">xchan_system</text>
<rect class="ix" x="425.7" y="1651.2" width="190.6" height="22.7"/><text x="430" y="1666.8">xchan_pubforum</text>
<rect class="ix" x="425.7" y="1673.9" width="190.6" height="22.7"/><text x="430" y="1689.5">xchan_deleted</text>
<rect class="f" x="425.7" y="1696.6" width="31.4" height="23"/><text x="430" y="1712">&lt; 2</text>
<rect class="f" x="457.1" y="1696.6" width="80" height="23"/><text x="461" y="1712">2 301 rows</text>
<rect class="f" x="537.1" y="1696.6" width="79.2" height="23"/><text class="r" x="612" y="1712">35 &gt;</text>
</g>

<g id="verify">
<rect class="h" x="465.3" y="2570.3" width="111.4" height="24"/><text class="c" x="521" y="2586.5">verify</text>
<rect class="pk" x="465.3" y="2594.3" width="111.4" height="22.8"/><text x="469.3" y="2609.8">id</text>
<rect class="ix" x="465.3" y="2617.1" width="111.4" height="22.8"/><text x="469.3" y="2632.6">channel</text>
<rect class="ix" x="465.3" y="2639.9" width="111.4" height="22.8"/><text x="469.3" y="2655.4">type</text>
<rect class="ix" x="465.3" y="2662.7" width="111.4" height="22.8"/><text x="469.3" y="2678.2">token</text>
<rect class="ix" x="465.3" y="2685.5" width="111.4" height="22.8"/><text x="469.3" y="2701">meta</text>
<rect class="ix" x="465.3" y="2708.3" width="111.4" height="22.8"/><text x="469.3" y="2723.8">created</text>
<rect class="f" x="465.3" y="2731.1" width="22.4" height="22.2"/>
<rect class="f" x="487.7" y="2731.1" width="51.6" height="22.2"/><text x="491" y="2746.5">0 rows</text>
<rect class="f" x="539.3" y="2731.1" width="37.4" height="22.2"/><text x="542.5" y="2746.5">20 &gt;</text>
</g>

<g id="cache">
<rect class="h" x="460.3" y="3494" width="120" height="24.3"/><text class="c" x="520.3" y="3510.5">cache</text>
<rect class="pk" x="460.3" y="3518.3" width="120" height="22.8"/><text x="464.3" y="3533.8">k</text>
<rect class="w" x="460.3" y="3541.1" width="120" height="22.8"/><text x="464.3" y="3556.6">v</text>
<rect class="w" x="460.3" y="3563.9" width="120" height="22.8"/><text x="464.3" y="3579.4">updated</text>
<rect class="f" x="460.3" y="3586.7" width="23.4" height="22.7"/>
<rect class="f" x="483.7" y="3586.7" width="68" height="22.7"/><text x="487" y="3602">334 rows</text>
<rect class="f" x="551.7" y="3586.7" width="28.6" height="22.7"/><text x="554.5" y="3602">5 &gt;</text>
</g>

<g id="xconfig">
<rect class="h" x="683.2" y="3203.8" width="237.3" height="25.6"/><text class="c" x="801.8" y="3221">xconfig</text>
<rect class="pk" x="683.2" y="3229.4" width="84.5" height="22.4"/><text x="687" y="3244.8">id</text>
<rect class="w" x="767.7" y="3229.4" width="152.8" height="22.4"/><text x="771" y="3244.8">int unsigned[10]</text>
<rect class="ix" x="683.2" y="3251.8" width="84.5" height="22.4"/><text x="687" y="3267.2">xchan</text>
<rect class="w" x="767.7" y="3251.8" width="152.8" height="22.4"/><text x="771" y="3267.2">char[255]</text>
<rect class="ix" x="683.2" y="3274.2" width="84.5" height="22.4"/><text x="687" y="3289.6">cat</text>
<rect class="w" x="767.7" y="3274.2" width="152.8" height="22.4"/><text x="771" y="3289.6">char[255]</text>
<rect class="ix" x="683.2" y="3296.6" width="84.5" height="22.4"/><text x="687" y="3312">k</text>
<rect class="w" x="767.7" y="3296.6" width="152.8" height="22.4"/><text x="771" y="3312">char[255]</text>
<rect class="w" x="683.2" y="3319" width="84.5" height="22.4"/><text x="687" y="3334.4">v</text>
<rect class="w" x="767.7" y="3319" width="152.8" height="22.4"/><text x="771" y="3334.4" textLength="145" lengthAdjust="spacingAndGlyphs">mediumtext[16777215]</text>
<rect class="f" x="683.2" y="3341.4" width="31.8" height="24"/><text x="687" y="3357.5">&lt; 3</text>
<rect class="f" x="715" y="3341.4" width="52.7" height="24"/><text x="718.5" y="3357.5">8 rows</text>
<rect class="f" x="767.7" y="3341.4" width="152.8" height="24"/><text class="r" x="916" y="3357.5">0 &gt;</text>
<rect x="681.7" y="3202.3" width="240.3" height="164.7" fill="none" stroke="#000" stroke-width="3"/>
</g>

<text x="14" y="3761" style="font-size:17.5px">Generated by SchemaSpy</text>
</svg>
